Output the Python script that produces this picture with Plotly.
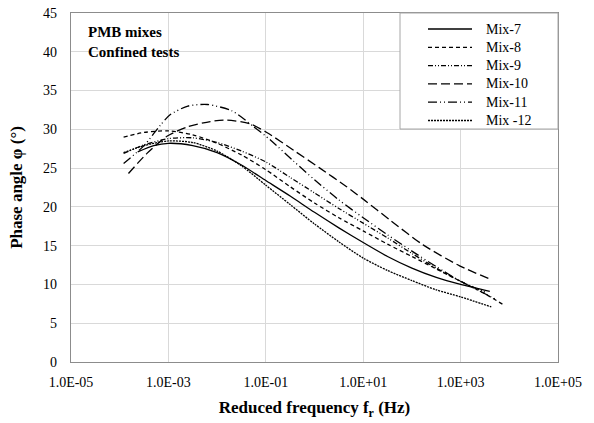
import plotly.graph_objects as go

# log10 of reduced frequency (Hz) and phase angle (deg)
logf_mix7 = [-3.63, -3.3, -3.0, -2.5, -2.0, -1.5, -1.0, -0.5, 0.0, 0.5, 1.0, 1.5, 2.0, 2.5, 3.0, 3.6]
phi_mix7 = [27.1, 27.9, 28.2, 27.9, 27.0, 25.4, 23.4, 21.4, 19.3, 17.3, 15.4, 13.6, 12.1, 10.9, 10.0, 9.1]

logf_mix8 = [-3.92, -3.5, -3.0, -2.5, -2.0, -1.5, -1.0, -0.5, 0.0, 0.5, 1.0, 1.5, 2.0, 2.5, 3.0, 3.5, 3.9]
phi_mix8 = [29.0, 29.6, 29.8, 29.3, 28.2, 26.7, 24.8, 22.6, 20.5, 18.6, 16.9, 15.2, 13.6, 12.0, 10.4, 8.8, 7.3]

logf_mix9 = [-3.92, -3.5, -3.0, -2.5, -2.0, -1.5, -1.0, -0.5, 0.0, 0.5, 1.0, 1.5, 2.0, 2.5, 3.0, 3.5]
phi_mix9 = [26.9, 28.0, 28.8, 28.9, 28.3, 27.2, 25.8, 23.8, 21.8, 19.8, 17.9, 16.0, 14.0, 12.1, 10.4, 9.0]

logf_mix10 = [-3.82, -3.44, -3.03, -2.62, -2.14, -1.80, -1.32, -0.98, -0.43, 0.11, 0.66, 1.0, 1.55, 2.23, 2.98, 3.60]
phi_mix10 = [24.3, 26.9, 29.1, 30.3, 31.0, 31.2, 30.7, 29.6, 27.3, 25.0, 22.6, 21.0, 18.3, 15.1, 12.4, 10.7]

logf_mix11 = [-3.92, -3.5, -3.17, -2.96, -2.6, -2.2, -1.7, -1.26, -0.9, -0.43, 0.0, 0.5, 1.0, 1.5, 2.0, 2.5, 3.0, 3.5, 3.75]
phi_mix11 = [25.6, 27.9, 30.5, 31.9, 33.0, 33.2, 32.4, 30.4, 28.6, 25.9, 23.5, 20.9, 18.6, 16.4, 14.3, 12.3, 10.4, 8.8, 8.0]

logf_mix12 = [-3.92, -3.5, -3.0, -2.5, -2.0, -1.5, -1.0, -0.5, 0.0, 0.5, 1.0, 1.5, 2.0, 2.5, 3.0, 3.63]
phi_mix12 = [27.0, 27.9, 28.5, 28.3, 27.2, 25.3, 22.8, 20.3, 17.8, 15.5, 13.4, 11.8, 10.5, 9.3, 8.4, 7.1]

x_tickvals = [1e-5, 1e-3, 1e-1, 1e1, 1e3, 1e5]
x_ticktext = ["1.0E-05", "1.0E-03", "1.0E-01", "1.0E+01", "1.0E+03", "1.0E+05"]

series_names = ["Mix-7", "Mix-8", "Mix-9", "Mix-10", "Mix-11", "Mix -12"]
series_logf = [logf_mix7, logf_mix8, logf_mix9, logf_mix10, logf_mix11, logf_mix12]
series_phi = [phi_mix7, phi_mix8, phi_mix9, phi_mix10, phi_mix11, phi_mix12]
series_dash = ["solid", "4px,3px", "5px,2px,1px,2px,1px,2px", "9px,4px",
               "9px,3px,1px,3px,1px,3px", "2px,1px"]

FONT = "Liberation Serif"

L, R, T, B = 71, 36, 13, 61
W, H = 594, 423
pw = W - L - R
ph_ = H - T - B

def px_to_xfrac(px):
    return (px - L) / pw

def px_to_yfrac(py):
    return 1 - (py - T) / ph_

fig = go.Figure()
for name, lf, ph, dash in zip(series_names, series_logf, series_phi, series_dash):
    fig.add_trace(go.Scatter(
        x=[10 ** v for v in lf], y=ph, name=name, mode="lines", showlegend=False,
        line=dict(color="black", width=1.3, dash=dash, shape="spline", smoothing=0.7),
    ))

# legend box drawn by hand (Excel-like row spacing)
shapes = [dict(
    type="rect", xref="paper", yref="paper", layer="above",
    x0=px_to_xfrac(400), x1=1.0, y0=px_to_yfrac(129), y1=1.0,
    fillcolor="white", line=dict(color="#a6a6a6", width=1),
)]
annotations = []
row0, row_gap = 29.0, 18.3
for i, (name, dash) in enumerate(zip(series_names, series_dash)):
    yy = px_to_yfrac(row0 + i * row_gap)
    shapes.append(dict(
        type="line", xref="paper", yref="paper", layer="above",
        x0=px_to_xfrac(428), x1=px_to_xfrac(472), y0=yy, y1=yy,
        line=dict(color="black", width=1.3, dash=dash),
    ))
    annotations.append(dict(
        text=name, x=px_to_xfrac(484), y=yy, xref="paper", yref="paper",
        xanchor="left", yanchor="middle", showarrow=False,
        font=dict(family=FONT, size=14, color="black"),
    ))

annotations.append(dict(
    text="<b>PMB mixes<br>Confined tests</b>", x=px_to_xfrac(86), y=px_to_yfrac(22),
    xref="paper", yref="paper", xanchor="left", yanchor="top",
    showarrow=False, align="left", font=dict(family=FONT, size=15, color="black"),
))

fig.update_layout(
    width=W, height=H,
    margin=dict(l=L, r=R, t=T, b=B, autoexpand=False),
    paper_bgcolor="white", plot_bgcolor="white",
    font=dict(family=FONT, size=13, color="black"),
    showlegend=False,
    shapes=shapes,
    annotations=annotations,
)

fig.update_xaxes(
    type="log", range=[-5, 5], tickvals=x_tickvals, ticktext=x_ticktext,
    showgrid=True, gridcolor="#d9d9d9", gridwidth=1,
    showline=True, linecolor="#8c8c8c", linewidth=1.3, mirror=True,
    ticks="outside", ticklen=7, tickcolor="rgba(0,0,0,0)",
    tickfont=dict(family=FONT, size=14, color="black"),
    title=dict(text="<b>Reduced frequency f<sub>r</sub> (Hz)</b>",
               font=dict(family=FONT, size=17, color="black"), standoff=12),
    zeroline=False, automargin=False,
)
fig.update_yaxes(
    range=[0, 45], dtick=5, tick0=0,
    showgrid=True, gridcolor="#d9d9d9", gridwidth=1,
    showline=True, linecolor="#8c8c8c", linewidth=1.3, mirror=True,
    ticks="outside", ticklen=10, tickcolor="rgba(0,0,0,0)",
    tickfont=dict(family=FONT, size=14, color="black"),
    title=dict(text="<b>Phase angle φ (°)</b>",
               font=dict(family=FONT, size=17, color="black"), standoff=16),
    zeroline=False, automargin=False,
)

fig.write_html("out.html", config={"displayModeBar": False},
               post_script="document.body.style.margin='0px';")
